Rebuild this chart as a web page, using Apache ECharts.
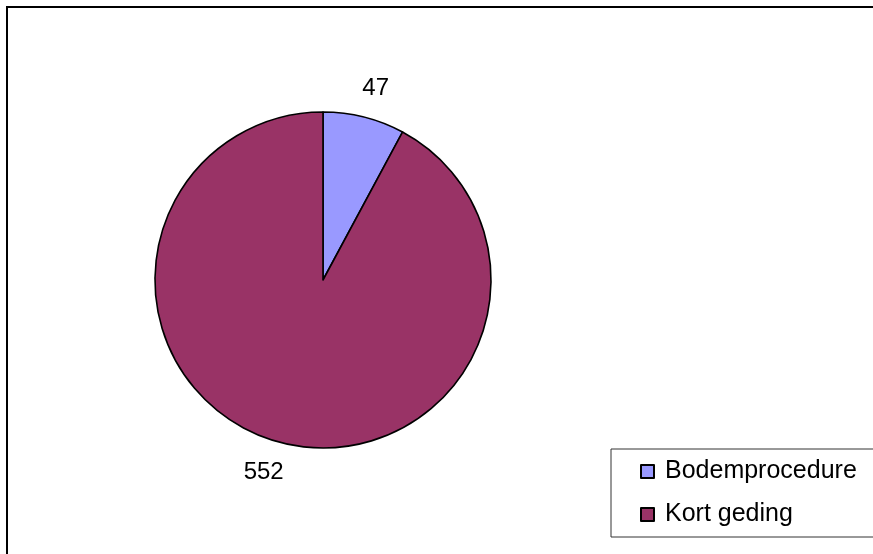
<!DOCTYPE html>
<html>
<head>
<meta charset="utf-8">
<script src="https://cdn.jsdelivr.net/npm/echarts@6/dist/echarts.min.js"></script>
<style>
html,body{margin:0;padding:0;background:#fff;}
#c{width:873px;height:554px;}
</style>
</head>
<body>
<div id="c"></div>
<script>
const categories = ['Bodemprocedure', 'Kort geding'];
const values = [47, 552];
const colors = ['#9999FF', '#993366'];

const chart = echarts.init(document.getElementById('c'), null, {renderer: 'canvas'});
chart.setOption({
  animation: false,
  backgroundColor: '#fff',
  graphic: [{
    type: 'rect',
    shape: {x: 7, y: 7, width: 1000, height: 1000},
    style: {fill: 'none', stroke: '#000', lineWidth: 2},
    silent: true
  }],
  legend: {
    orient: 'vertical',
    left: 611,
    top: 449,
    padding: [10, 60, 10, 29],
    itemWidth: 13,
    itemHeight: 13,
    itemGap: 18,
    borderColor: '#333',
    borderWidth: 1,
    icon: 'rect',
    data: categories,
    textStyle: {fontFamily: 'Liberation Sans, Arial, sans-serif', fontSize: 25, color: '#000', padding: [0, 0, 0, 6]}
  },
  series: [{
    type: 'pie',
    center: [323, 280],
    radius: [0, 168],
    startAngle: 90,
    clockwise: true,
    avoidLabelOverlap: false,
    itemStyle: {borderColor: '#000', borderWidth: 1.6},
    emphasis: {disabled: true},
    label: {
      show: true,
      position: 'outside',
      formatter: '{c}',
      fontFamily: 'Liberation Sans, Arial, sans-serif',
      fontSize: 24,
      color: '#000'
    },
    labelLine: {show: false, length: 30, length2: -14},
    data: categories.map((n, i) => ({name: n, value: values[i], itemStyle: {color: colors[i]}}))
  }]
});
</script>
</body>
</html>
